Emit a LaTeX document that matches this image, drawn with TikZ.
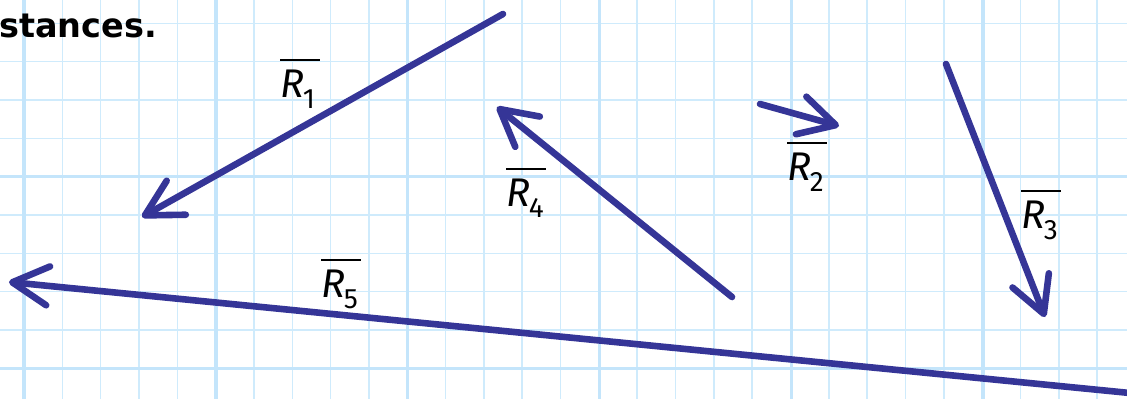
\documentclass[tikz,border=0pt]{standalone}
\usepackage{fontspec}
\setmainfont{Fira Sans}
\newfontfamily\headfont{DejaVu Sans}
\usetikzlibrary{arrows.meta}
\definecolor{gridc}{HTML}{CFEBFC}
\definecolor{gridm}{HTML}{C4E5FB}
\definecolor{vecc}{HTML}{353597}
\newcommand\vlab[1]{\vbox{\hrule width 40pt height 2pt\vskip 9pt\hbox{\fontsize{40}{40}\selectfont\itshape R\kern-1pt\raisebox{-11pt}{\fontsize{28}{28}\selectfont\upshape #1}}}}
\tikzset{
  minorline/.style={gridc, line width=1.6pt},
  majorline/.style={gridm, line width=3.4pt},
  vec/.style={line width=6.6pt, vecc, line cap=round, -{Straight Barb[length=36pt,width=39pt,round]}},
  lab/.style={anchor=north west, inner sep=0pt, outer sep=0pt}
}
\begin{document}
\begin{tikzpicture}[x=1pt,y=-1pt]
\useasboundingbox (0,0) rectangle (1127,399);
\fill[white] (0,0) rectangle (1127,399);
% grid
\foreach \i in {0,...,30} \draw[minorline] ({-14.33+38.33*\i},0) -- ++(0,399);
\foreach \j in {1,...,10} \draw[minorline] (0,{-15+38.33*\j}) -- ++(1127,0);
\foreach \i in {0,...,5} \draw[majorline] ({24+191.8*\i},0) -- ++(0,399);
\foreach \j in {1,2} \draw[majorline] (0,{-15+191.67*\j}) -- ++(1127,0);
% heading fragment
\node[anchor=base west, inner sep=0pt, font=\headfont\fontsize{33.5}{33.5}\selectfont\bfseries] (txt) at (-1,37) {stances.};
% vector end points
\coordinate (r1s) at (503,14);   \coordinate (r1e) at (142,217);
\coordinate (r2s) at (760,104);  \coordinate (r2e) at (839,126);
\coordinate (r3s) at (946,64);   \coordinate (r3e) at (1045,317);
\coordinate (r4s) at (732,297);  \coordinate (r4e) at (497,107);
\coordinate (r5s) at (1140,394); \coordinate (r5e) at (9,282);
\draw[vec] (r1s) -- (r1e);
\draw[vec] (r2s) -- (r2e);
\draw[vec] (r3s) -- (r3e);
\draw[vec] (r4s) -- (r4e);
\draw[vec] (r5s) -- (r5e);
% labels
\node[lab] (l1) at (280,59) {\vlab{1}};
\node[lab] (l2) at (787,142) {\vlab{2}};
\node[lab] (l3) at (1021,190) {\vlab{3}};
\node[lab] (l4) at (506,168) {\vlab{4}};
\node[lab] (l5) at (321,259) {\vlab{5}};
\end{tikzpicture}
\end{document}
